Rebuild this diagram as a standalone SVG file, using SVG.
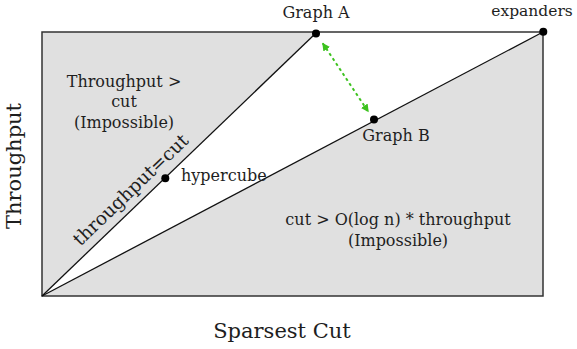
<svg xmlns="http://www.w3.org/2000/svg" width="577" height="349" viewBox="0 0 577 349">
  <style>
    text { font-family: "DejaVu Serif", "Liberation Serif", serif; fill: #1e1e1e; }
    .lbl { font-size: 16px; }
    .axis { font-size: 21px; }
    .region { fill: #e0e0e0; stroke: none; }
    .edge { stroke: #111; stroke-width: 1.3; fill: none; }
    .dot { fill: #000; }
    .arrow { stroke: #3cc21e; stroke-width: 2; stroke-dasharray: 3 3; fill: none; }
  </style>
  <defs>
    <marker id="ah" viewBox="0 0 10 10" refX="9" refY="5" markerWidth="4" markerHeight="4" orient="auto-start-reverse" markerUnits="strokeWidth">
      <path d="M0,0 L10,5 L0,10 z" fill="#3cc21e"/>
    </marker>
  </defs>

  <g id="regions">
    <rect x="42" y="32" width="501" height="264" fill="#fff"/>
    <polygon class="region" points="42,32 316,32 42,296"/>
    <polygon class="region" points="42,296 543,32 543,296"/>
    <rect x="42" y="32" width="501" height="264" fill="none" stroke="#333" stroke-width="1.5"/>
  </g>

  <g id="connectors">
    <line class="edge" x1="42" y1="296" x2="316" y2="33"/>
    <line class="edge" x1="42" y1="296" x2="543" y2="32"/>
    <line class="arrow" x1="322.7" y1="43.3" x2="368.3" y2="111.7" marker-start="url(#ah)" marker-end="url(#ah)"/>
  </g>

  <g id="graphA">
    <circle class="dot" cx="316" cy="33.5" r="4"/>
    <text class="lbl" x="316" y="18" text-anchor="middle">Graph A</text>
  </g>
  <g id="graphB">
    <circle class="dot" cx="374" cy="119.5" r="4"/>
    <text class="lbl" x="396" y="141" text-anchor="middle">Graph B</text>
  </g>
  <g id="expanders">
    <circle class="dot" cx="543.3" cy="31.7" r="4"/>
    <text class="lbl" x="532" y="16" text-anchor="middle" style="font-size:15.5px">expanders</text>
  </g>
  <g id="hypercube">
    <circle class="dot" cx="165.3" cy="178.3" r="4"/>
    <text class="lbl" x="181" y="181">hypercube</text>
  </g>

  <g id="region-left-label">
    <text class="lbl" text-anchor="middle" x="124" y="87">Throughput &gt;</text>
    <text class="lbl" text-anchor="middle" x="124" y="107">cut</text>
    <text class="lbl" text-anchor="middle" x="124" y="128">(Impossible)</text>
  </g>
  <g id="region-right-label">
    <text class="lbl" text-anchor="middle" x="398" y="225">cut &gt; O(log n) * throughput</text>
    <text class="lbl" text-anchor="middle" x="398" y="246">(Impossible)</text>
  </g>
  <g id="diag-label">
    <text text-anchor="middle" x="135" y="194.3" style="font-size:18.5px" transform="rotate(-43.8 135 194.3)">throughput=cut</text>
  </g>

  <g id="axes">
    <text class="axis" text-anchor="middle" x="282" y="338">Sparsest Cut</text>
    <text class="axis" text-anchor="middle" x="21" y="166" transform="rotate(-90 21 166)">Throughput</text>
  </g>
</svg>
